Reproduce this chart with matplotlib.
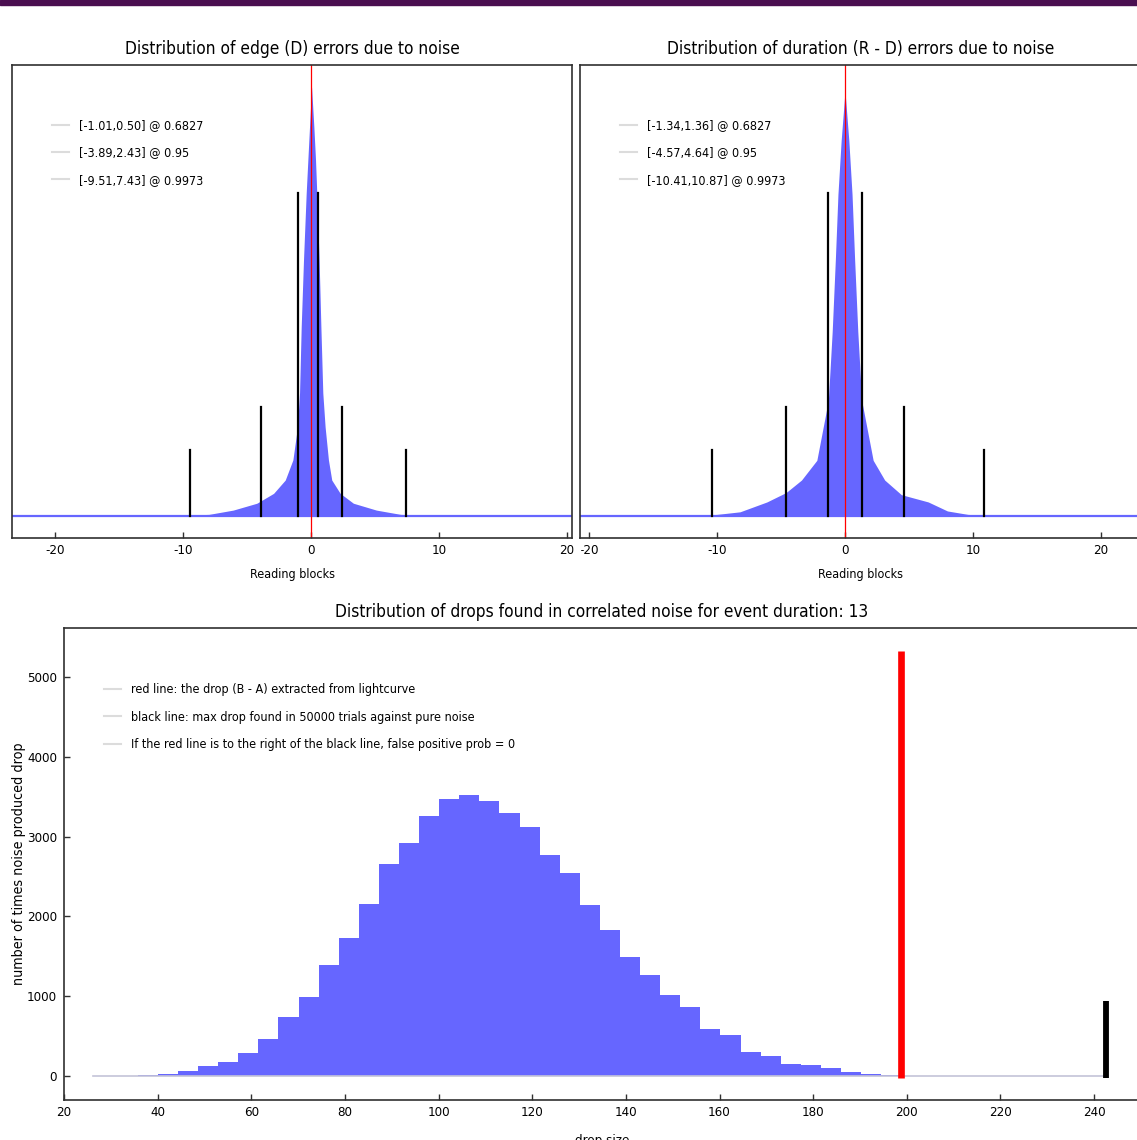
import matplotlib
matplotlib.use("Agg")
import matplotlib.pyplot as plt
from matplotlib.lines import Line2D
from matplotlib.patches import Rectangle
import numpy as np

plt.rcParams['font.family'] = ['DejaVu Sans']
plt.rcParams['font.stretch'] = 'condensed'
plt.rcParams['axes.unicode_minus'] = False

# edge (D) error histogram, normalised to its peak
edge_x = [-23.4, -12.0, -8.0, -6.1, -4.25, -2.94, -2.03, -1.43, -1.07, -0.91, -0.78,
          -0.60, -0.39, -0.26, -0.13, 0.03, 0.21, 0.34, 0.44, 0.62, 0.76, 0.91,
          1.09, 1.35, 1.61, 2.27, 3.30, 5.10, 7.00, 11.0, 20.4]
edge_h = [0.0, 0.0, 0.004, 0.014, 0.030, 0.053, 0.084, 0.131, 0.208, 0.287, 0.441,
          0.597, 0.752, 0.830, 0.907, 1.000, 0.907, 0.830, 0.752, 0.597, 0.441, 0.287,
          0.208, 0.131, 0.084, 0.053, 0.030, 0.014, 0.004, 0.0, 0.0]
edge_lo = [-1.01, -3.89, -9.51]
edge_hi = [0.50, 2.43, 7.43]

# duration (R - D) error histogram
dur_x = [-20.7, -12.0, -10.0, -8.2, -6.1, -4.6, -3.4, -2.2, -1.3, -1.0, -0.75,
         -0.55, -0.30, 0.0, 0.30, 0.55, 0.75, 1.0, 1.3, 2.2, 3.1, 4.4, 6.5,
         8.0, 9.6, 12.0, 23.2]
dur_h = [0.0, 0.0, 0.004, 0.010, 0.033, 0.055, 0.084, 0.130, 0.270, 0.430, 0.600,
         0.750, 0.875, 0.990, 0.875, 0.750, 0.600, 0.430, 0.270, 0.130, 0.084, 0.050, 0.033,
         0.012, 0.004, 0.0, 0.0]
dur_lo = [-1.34, -4.57, -10.41]
dur_hi = [1.36, 4.64, 10.87]

conf_levels = ['0.6827', '0.95', '0.9973']
conf_marker_h = [0.753, 0.254, 0.154]

# drops found in correlated noise
drop_lo, drop_hi = 27.2, 241.7
drop_counts = [2, 4, 8, 20, 67, 125, 175, 284, 464, 743,
               986, 1391, 1725, 2155, 2657, 2916, 3262, 3471, 3525, 3450,
               3300, 3124, 2770, 2540, 2140, 1830, 1490, 1265, 1015, 865,
               590, 514, 304, 250, 150, 140, 104, 50, 29, 10,
               6, 3, 2, 1, 1, 1, 0, 0, 0, 1]
observed_drop, observed_bar = 198.7, 5326
max_noise_drop, max_noise_bar = 242.6, 940
n_trials = 50000
event_duration = 13

HIST = '#6666ff'
FRAME = '#303030'
W, H = 1137, 1140
TITLE_FS = 12.4
LEG_FS = 9.0


def frame(ax):
    for sp in ax.spines.values():
        sp.set_color(FRAME)
        sp.set_linewidth(1.2)
    ax.tick_params(direction='in', length=4, width=1, color=FRAME,
                   labelsize=9.5, pad=4, top=False, right=False)


def note_legend(ax, labels, anchor):
    handles = [Line2D([], [], color='#dcdcdc', lw=1.5) for _ in labels]
    ax.legend(handles, labels, loc='upper left', bbox_to_anchor=anchor,
              frameon=False, fontsize=LEG_FS, handlelength=1.35, handletextpad=0.85,
              labelspacing=1.15, borderpad=0, borderaxespad=0)


def error_panel(ax, xs, hs, lo, hi, xlim, title):
    ax.fill_between(xs, 0, hs, color=HIST, lw=0)
    ax.plot(xlim, [0, 0], color=HIST, lw=1.6)
    for a, b, h in zip(lo, hi, conf_marker_h):
        ax.plot([a, a], [0, h], color='black', lw=1.6)
        ax.plot([b, b], [0, h], color='black', lw=1.6)
    ax.axvline(0, color='red', lw=0.9)
    ax.set_xlim(*xlim)
    ax.set_ylim(-0.051, 1.051)
    ax.set_yticks([])
    ax.set_xticks([-20, -10, 0, 10, 20])
    frame(ax)
    ax.set_xlabel('Reading blocks', fontsize=9, labelpad=8)
    ax.set_title(title, fontsize=TITLE_FS, pad=8)
    labels = [f'[{a:.2f},{b:.2f}] @ {c}' for a, b, c in zip(lo, hi, conf_levels)]
    note_legend(ax, labels, (0.071, 0.886))


fig = plt.figure(figsize=(W / 100, H / 100), dpi=100)

ax1 = fig.add_axes([12 / W, 1 - 538 / H, 560 / W, 473 / H])
error_panel(ax1, edge_x, edge_h, edge_lo, edge_hi, (-23.4, 20.4),
            'Distribution of edge (D) errors due to noise')

ax2 = fig.add_axes([580 / W, 1 - 538 / H, 562 / W, 473 / H])
error_panel(ax2, dur_x, dur_h, dur_lo, dur_hi, (-20.7, 23.2),
            'Distribution of duration (R - D) errors due to noise')

# the right panel's widget hides the end of the left panel's last tick label
fig.add_artist(Rectangle((573.5 / W, 1 - 562 / H), 6 / W, 22 / H,
                         transform=fig.transFigure, color='white', zorder=10))

ax3 = fig.add_axes([64 / W, 1 - 1100 / H, 1076 / W, 472 / H])
edges = np.linspace(drop_lo, drop_hi, len(drop_counts) + 1)
ax3.plot([drop_lo - 1, max_noise_drop], [0, 0], color='#c4c4d8', lw=1.2)
ax3.stairs(drop_counts, edges, fill=True, color=HIST, lw=0)
ax3.plot([observed_drop, observed_drop], [-25, observed_bar], color='red', lw=4.8,
         solid_capstyle='butt')
ax3.plot([max_noise_drop, max_noise_drop], [-25, max_noise_bar], color='black', lw=4.2,
         solid_capstyle='butt')
ax3.set_xlim(20, 249.8)
ax3.set_ylim(-301, 5614)
ax3.set_xticks(np.arange(20, 241, 20))
ax3.set_yticks(np.arange(0, 5001, 1000))
frame(ax3)
ax3.tick_params(axis='y', pad=5)
ax3.set_xlabel('drop size', fontsize=9.5, labelpad=11)
ax3.set_ylabel('number of times noise produced drop', fontsize=10.3, labelpad=1)
ax3.set_title(f'Distribution of drops found in correlated noise for event duration: {event_duration}',
              fontsize=TITLE_FS, pad=8)
note_legend(ax3, ['red line: the drop (B - A) extracted from lightcurve',
                  f'black line: max drop found in {n_trials} trials against pure noise',
                  'If the red line is to the right of the black line, false positive prob = 0'],
            (0.037, 0.883))

# window header strip
fig.add_artist(Rectangle((0, 1 - 5 / H), 1, 5 / H, transform=fig.transFigure,
                         color='#4a0e50', zorder=10))

fig.savefig('out.png', dpi=100)
